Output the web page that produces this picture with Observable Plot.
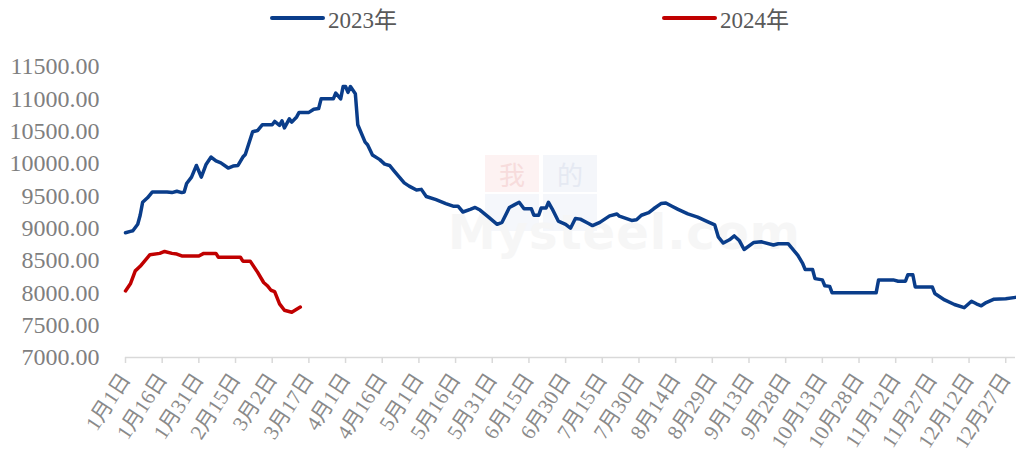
<!DOCTYPE html>
<html>
<head>
<meta charset="utf-8">
<script src="https://cdn.jsdelivr.net/npm/d3@7"></script>
<script src="https://cdn.jsdelivr.net/npm/@observablehq/plot@0.6"></script>
<style>
  html, body { margin: 0; padding: 0; background: #fff; }
  #wrap { position: relative; width: 1016px; height: 466px; overflow: hidden; }
  #legend { position: absolute; left: 0; top: 0; width: 1016px; height: 40px; font-family: 'Liberation Serif', 'Times New Roman', 'Noto Sans CJK SC', serif; font-size: 23px; color: #595959; }
  .item { position: absolute; top: 4px; display: flex; align-items: center; height: 28px; }
  .sw { display: inline-block; height: 4px; border-radius: 2px; margin-right: 3px; }
  #wm { position: absolute; left: 0; top: 0; width: 1016px; height: 466px; pointer-events: none; }
  .box { position: absolute; width: 54px; height: 37px; }
  .boxt { position: absolute; width: 54px; height: 37px; display: flex; align-items: center; justify-content: center; font-family: 'Noto Sans CJK SC', sans-serif; font-size: 26px; line-height: 30px; }
  .mys { position: absolute; left: 448px; top: 204px; font-family: 'DejaVu Sans', sans-serif; font-weight: bold; font-size: 48px; line-height: 56px; color: #f6f6f6; letter-spacing: 1px; }
</style>
</head>
<body>
<div id="wrap">
  <div id="wm">
    <div class="boxt" style="left:485px;top:155px;background:#fdf2f2;color:#f7dcdc;"><span>我</span></div>
    <div class="boxt" style="left:543px;top:155px;background:#f4f6fa;color:#e5e9f2;"><span>的</span></div>
    <div class="box" style="left:485px;top:194px;background:#f5f7fb;"></div>
    <div class="box" style="left:543px;top:194px;background:#f5f7fb;"></div>
    <div class="mys">Mysteel.com</div>
  </div>
  <div id="chart" style="position:absolute;left:0;top:0;"></div>
  <div id="legend"></div>
</div>
<script>
// 2023 series: day offset from Jan 1, value
const days2023 = [0,2,3,5,6,7,9,11,17,19,21,23,24,25,27,29,30,31,33,35,37,39,42,44,46,48,49,52,54,56,60,61,63,64,65,67,68,70,71,75,77,79,80,85,86,88,89,90,91,92,94,95,98,99,101,104,106,108,110,112,114,116,119,121,123,127,131,134,136,138,141,143,145,148.5,152,154,157,159,161,163,166,167,169,170,172,173,174.5,177,180,182,184,186,189,191,194,196,198,201,202,207,209,211,214,216,219,221,223.5,226,230,234,238,241,242.5,244.5,247,249,251,253,257,260,265,267,271,275,277,278,281,282,285,286,288,289,307,308,314,316,319,320,322,323,330,331,335,339,343,346,348,350,352,355,360,364];
const values2023 = [8930,8950,8960,9060,9200,9400,9470,9560,9560,9550,9570,9550,9560,9690,9790,9970,9880,9790,9990,10100,10040,10010,9930,9960,9970,10100,10140,10490,10510,10600,10600,10650,10590,10660,10550,10690,10640,10720,10790,10790,10840,10850,11000,11000,11090,11000,11190,11190,11100,11190,11080,10600,10330,10290,10130,10060,9990,9970,9880,9790,9700,9650,9590,9600,9490,9440,9380,9340,9340,9250,9290,9320,9280,9170,9060,9090,9320,9360,9400,9300,9300,9200,9200,9310,9310,9400,9300,9110,9060,9000,9150,9140,9080,9040,9090,9140,9190,9220,9185,9120,9130,9200,9240,9300,9380,9390,9340,9290,9220,9170,9100,9050,8860,8770,8820,8880,8810,8670,8780,8790,8740,8760,8760,8580,8450,8360,8360,8220,8200,8110,8100,8000,8000,8200,8200,8180,8180,8280,8280,8090,8090,7990,7890,7820,7770,7870,7830,7800,7850,7900,7910,7930];
// 2024 series
const days2024 = [0,2,4,6,10,14,16,19,21,23,30,32,37,38,47,48,51,54,56.5,58,59.5,61,63,65,68,71.5];
const values2024 = [8030,8140,8340,8410,8590,8610,8640,8610,8600,8570,8570,8610,8610,8550,8550,8490,8490,8320,8160,8110,8040,8020,7830,7730,7700,7780];
const seriesNames = ["2023年", "2024年"];
const seriesColors = ["#0a3d8a", "#c00000"];
const yTicks = [7000,7500,8000,8500,9000,9500,10000,10500,11000,11500];
const xTickDays = d3.range(0, 361, 15);

const rows2023 = days2023.map((d, i) => ({day: d, value: values2023[i]}));
const rows2024 = days2024.map((d, i) => ({day: d, value: values2024[i]}));
const fmt = d => { const t = d3.utcDay.offset(new Date(Date.UTC(2023,0,1)), d); return (t.getUTCMonth()+1) + "月" + t.getUTCDate() + "日"; };

const font = "'Liberation Serif','Times New Roman','Noto Sans CJK SC',serif";
const chart = Plot.plot({
  width: 1016, height: 466,
  marginLeft: 125, marginRight: 1, marginTop: 66, marginBottom: 109,
  style: {fontFamily: font, background: "transparent"},
  x: {domain: [0, 364], label: null},
  y: {domain: [7000, 11500], label: null},
  marks: [
    Plot.axisY({ticks: yTicks, tickSize: 0, tickPadding: 26, tickFormat: d => d.toFixed(2), fontSize: 24, fill: "#7f7f7f", label: null}),
    Plot.ruleY([7000], {stroke: "#d9d9d9", strokeWidth: 1.5}),
    Plot.axisX({ticks: xTickDays, tickSize: 6, stroke: "#d9d9d9", strokeWidth: 1.5, tickRotate: -57, tickPadding: 12, tickFormat: fmt, fontSize: 21, fill: "#8a8a8a", label: null}),
    Plot.line(rows2023, {x: "day", y: "value", stroke: seriesColors[0], strokeWidth: 3.5, strokeLinejoin: "round"}),
    Plot.line(rows2024, {x: "day", y: "value", stroke: seriesColors[1], strokeWidth: 3.5, strokeLinejoin: "round"})
  ]
});
document.getElementById("chart").appendChild(chart);

const legend = document.getElementById("legend");
const lefts = [270, 662];
seriesNames.forEach((n, i) => {
  const it = document.createElement("div");
  it.className = "item";
  it.style.left = lefts[i] + "px";
  it.innerHTML = `<span class="sw" style="width:55px;background:${seriesColors[i]}"></span><span>${n}</span>`;
  legend.appendChild(it);
});
</script>
</body>
</html>
